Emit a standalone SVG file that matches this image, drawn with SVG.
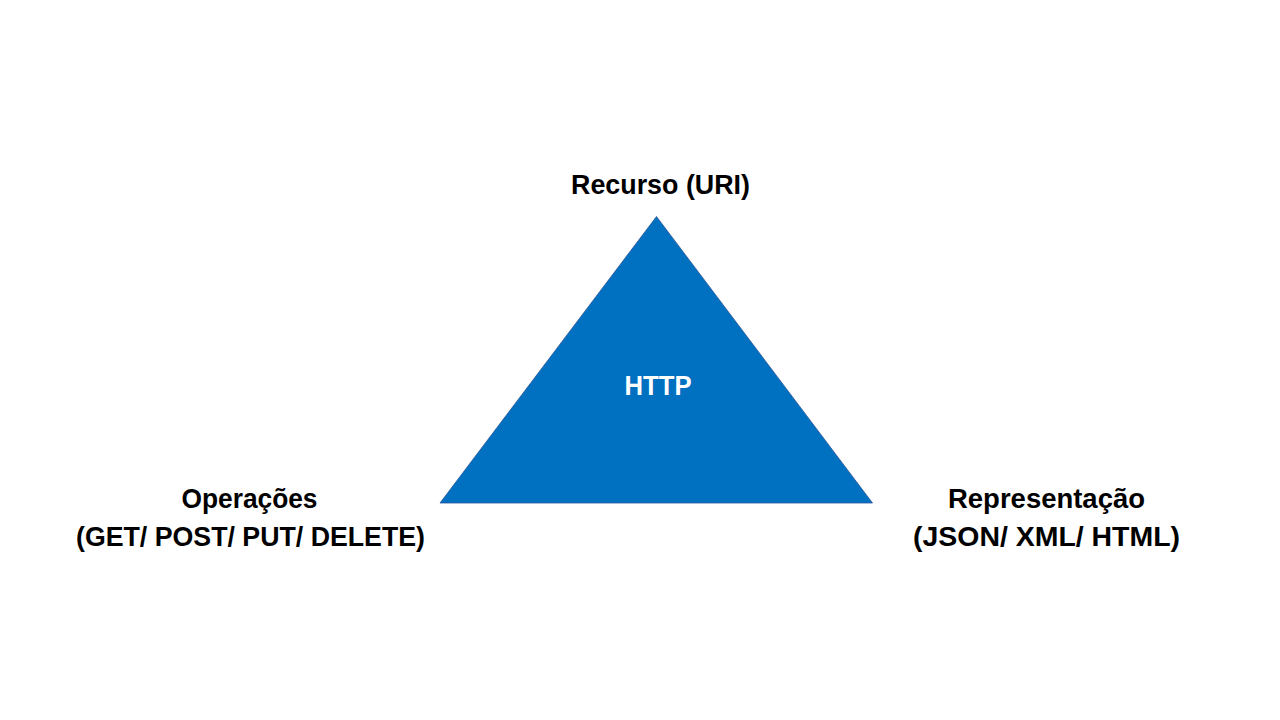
<svg xmlns="http://www.w3.org/2000/svg" width="1280" height="720" viewBox="0 0 1280 720">
<style>
.t{font-family:"Liberation Sans",Arial,sans-serif;font-weight:bold;font-size:27px;fill:#000;text-anchor:middle}
.w{fill:#fff}
</style>
<rect width="1280" height="720" fill="#fff"/>
<g id="triangle">
<polygon points="656.5,216.5 440,503 872.5,503" fill="#0070C0" stroke="#2F5597" stroke-width="0.8"/>
<text class="t w" x="658" y="395" textLength="67" lengthAdjust="spacingAndGlyphs">HTTP</text>
</g>
<g id="recurso">
<text class="t" x="660.5" y="194" textLength="179" lengthAdjust="spacingAndGlyphs">Recurso (URI)</text>
</g>
<g id="operacoes">
<text class="t" x="249.5" y="508" textLength="136" lengthAdjust="spacingAndGlyphs">Operações</text>
<text class="t" x="250.5" y="546" textLength="349" lengthAdjust="spacingAndGlyphs">(GET/ POST/ PUT/ DELETE)</text>
</g>
<g id="representacao">
<text class="t" x="1046.5" y="508" textLength="197" lengthAdjust="spacingAndGlyphs">Representação</text>
<text class="t" x="1046.5" y="546" textLength="267" lengthAdjust="spacingAndGlyphs">(JSON/ XML/ HTML)</text>
</g>
<g id="connectors"/>
</svg>
